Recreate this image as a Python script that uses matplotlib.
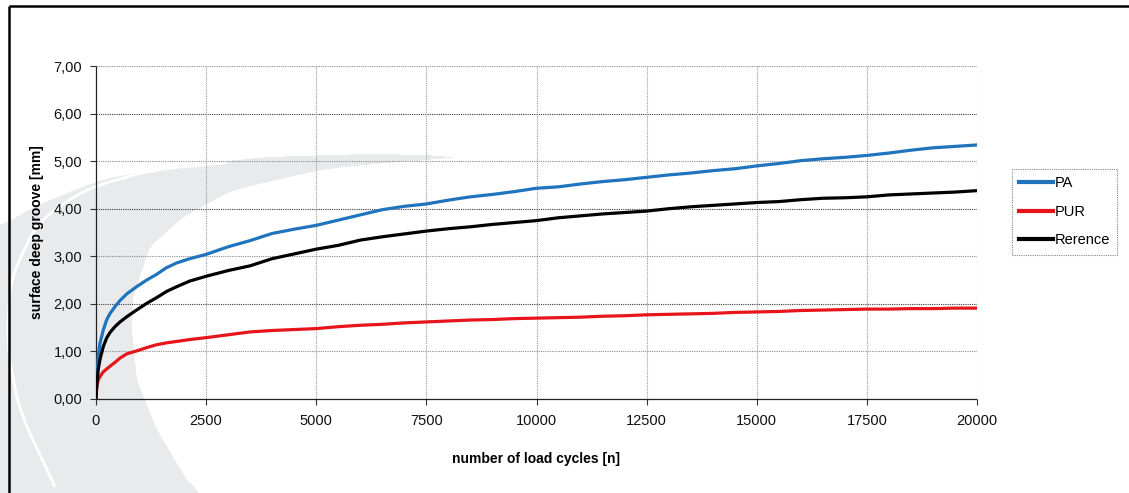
import matplotlib
matplotlib.use("Agg")
import numpy as np
import matplotlib.pyplot as plt
from matplotlib.ticker import FuncFormatter, MultipleLocator

# ==============================
# Data
# ==============================

cycles = [0, 15, 50, 90, 165, 240, 320, 430, 545, 700,
          920, 1150, 1375, 1600, 1830, 2130, 2500,
          3000, 3500, 4000, 4500, 5000, 5500, 6000, 6500, 7000, 7500,
          8000, 8500, 9000, 9500, 10000, 10500, 11000, 11500, 12000, 12500,
          13000, 13500, 14000, 14500, 15000, 15500, 16000, 16500, 17000, 17500,
          18000, 18500, 19000, 19500, 20000]

pa = [0, 0.40, 0.88, 1.17, 1.45, 1.66, 1.80, 1.94, 2.07, 2.21,
      2.36, 2.50, 2.62, 2.76, 2.86, 2.95, 3.04,
      3.20, 3.33, 3.48, 3.57, 3.65, 3.76, 3.87, 3.98, 4.05, 4.10,
      4.18, 4.25, 4.30, 4.36, 4.43, 4.46, 4.52, 4.57, 4.61, 4.66,
      4.71, 4.75, 4.80, 4.84, 4.90, 4.95, 5.01, 5.05, 5.08, 5.12,
      5.17, 5.23, 5.28, 5.31, 5.34]

pur = [0, 0.25, 0.40, 0.47, 0.57, 0.63, 0.69, 0.77, 0.86, 0.95,
       1.01, 1.08, 1.14, 1.18, 1.21, 1.25, 1.29,
       1.35, 1.41, 1.44, 1.46, 1.48, 1.52, 1.55, 1.57, 1.60, 1.62,
       1.64, 1.66, 1.67, 1.69, 1.70, 1.71, 1.72, 1.74, 1.75, 1.77,
       1.78, 1.79, 1.80, 1.82, 1.83, 1.84, 1.86, 1.87, 1.88, 1.89,
       1.89, 1.90, 1.90, 1.91, 1.91]

reference = [0, 0.25, 0.62, 0.83, 1.10, 1.28, 1.40, 1.52, 1.62, 1.73,
             1.87, 2.01, 2.13, 2.26, 2.36, 2.48, 2.58,
             2.70, 2.80, 2.95, 3.05, 3.15, 3.23, 3.34, 3.41, 3.47, 3.53,
             3.58, 3.62, 3.67, 3.71, 3.75, 3.81, 3.85, 3.89, 3.92, 3.95,
             4.00, 4.04, 4.07, 4.10, 4.13, 4.15, 4.19, 4.22, 4.23, 4.25,
             4.29, 4.31, 4.33, 4.35, 4.38]

series_names = ["PA", "PUR", "Rerence"]
series_colors = ["#1f74bd", "#e8141b", "#000000"]

plt.rcParams["font.family"] = ["Liberation Sans", "DejaVu Sans"]

W, H = 1129, 493
fig = plt.figure(figsize=(W / 100, H / 100), dpi=100)

# ==============================
# Background swoosh + frame (pixel coords)
# ==============================


def smooth(a, k):
    n = len(a)
    a = np.pad(a, k // 2, mode="edge")
    return np.convolve(a, np.ones(k) / k, mode="valid")[:n]


xs = np.arange(W) + 0.5
ys = np.arange(H) + 0.5

# outer edge of the grey band (y over x), inner edge (x over y)
out_x = [0, 33, 100, 167, 267, 367, 430, 490]
out_y = [227, 207, 180, 167, 157, 154, 155, 161]
in_y = [150, 157, 162, 167, 190, 217, 247, 297, 330, 380, 430, 480, 493]
in_x = [500, 470, 400, 333, 233, 183, 150, 133, 132, 137, 157, 187, 200]

y_edge = smooth(np.interp(xs, out_x, out_y), 31)
x_edge = smooth(np.interp(ys, in_y, in_x), 11)
grey = (ys[:, None] > y_edge[None, :]) & (xs[None, :] < x_edge[:, None])

img = np.ones((H, W, 3))
img[grey] = np.array([233, 234, 236]) / 255

bg = fig.add_axes([0, 0, 1, 1], zorder=0)
bg.imshow(img, extent=(0, W, H, 0), interpolation="bilinear", aspect="auto")

# thin white streak inside the swoosh
wl_x = [58, 20, 7, 10, 37, 83, 150, 233]
wl_y = [493, 413, 347, 280, 223, 190, 170, 162]
t = np.linspace(0, 1, len(wl_x))
tt = np.linspace(0, 1, 300)
bg.plot(smooth(np.interp(tt, t, wl_x), 31), smooth(np.interp(tt, t, wl_y), 31),
        color="white", linewidth=2.0)

bg.plot([9, W], [6, 6], color="black", linewidth=1.8, solid_capstyle="butt")
bg.plot([9, 9], [6, H], color="black", linewidth=1.8, solid_capstyle="butt")
bg.set_xlim(0, W)
bg.set_ylim(H, 0)
bg.axis("off")

# ==============================
# Main chart
# ==============================

ax = fig.add_axes([96 / W, 94 / H, 881 / W, 333 / H], zorder=1)
ax.patch.set_visible(False)

ax.set_xlim(0, 20000)
ax.set_ylim(0, 7)
ax.xaxis.set_major_locator(MultipleLocator(2500))
ax.yaxis.set_major_locator(MultipleLocator(1))
ax.yaxis.set_major_formatter(FuncFormatter(lambda v, p: f"{v:.2f}".replace(".", ",")))

# grid: even rows darker, like the original
for yv in range(1, 8):
    ax.axhline(yv, color="#3a3a3a" if yv % 2 == 0 else "#8c8c8c",
               linewidth=0.8, linestyle=(0, (1, 1)), zorder=1)
for xv in range(2500, 20001, 2500):
    ax.axvline(xv, color="#9a9a9a", linewidth=0.8, linestyle=(0, (1, 1)), zorder=1)

for name, vals, col in zip(series_names, [pa, pur, reference], series_colors):
    ax.plot(cycles, vals, color=col, linewidth=2.3, label=name, zorder=3)

for side in ["top", "right"]:
    ax.spines[side].set_visible(False)
for side in ["left", "bottom"]:
    ax.spines[side].set_color("#222222")
    ax.spines[side].set_linewidth(0.9)
    ax.spines[side].set_linestyle((0, (2, 1)))

ax.tick_params(axis="both", direction="out", length=4, width=0.8, color="#333333",
               labelsize=10.5, labelcolor="#111111")
ax.tick_params(axis="y", pad=6)
ax.tick_params(axis="x", pad=7)

ax.set_xlabel("number of load cycles [n]", fontsize=10, fontweight="bold", labelpad=17)
ax.set_ylabel("surface deep groove [mm]", fontsize=10, fontweight="bold", labelpad=7)

leg = ax.legend(loc="upper left", bbox_to_anchor=(1012 / W, 1 - 169 / H),
                bbox_transform=fig.transFigure, fontsize=10.5, frameon=True,
                fancybox=False, framealpha=1, facecolor="white", edgecolor="#888888",
                handlelength=2.3, handletextpad=0.1, labelspacing=1.0,
                borderpad=0.5, borderaxespad=0)
leg.get_frame().set_linewidth(0.8)
leg.get_frame().set_linestyle((0, (1, 1)))
for h in leg.get_lines():
    h.set_linewidth(3.0)

plt.savefig("out.png", dpi=100)
